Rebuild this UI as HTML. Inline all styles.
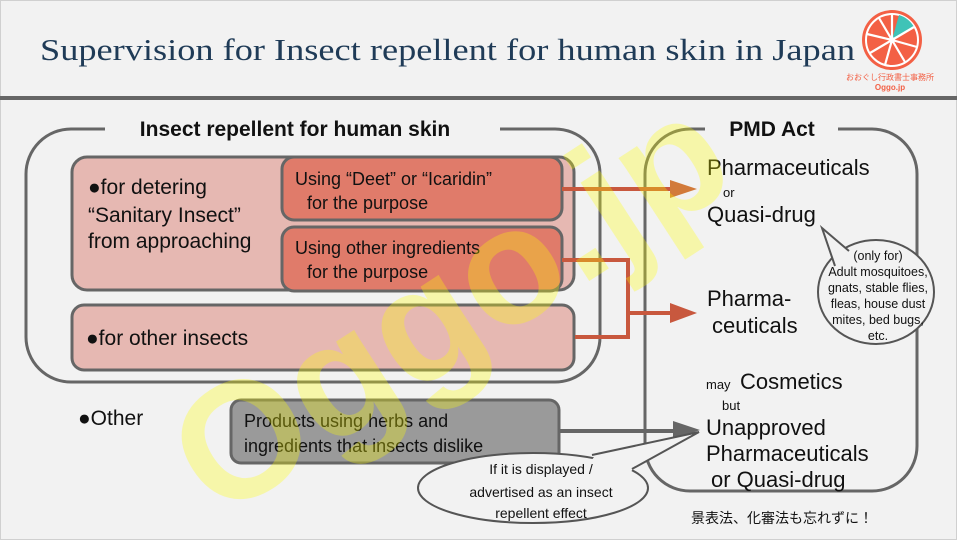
<!DOCTYPE html>
<html><head><meta charset="utf-8"><style>
html,body{margin:0;padding:0;background:#fff}
svg{display:block}
</style></head><body>
<svg width="960" height="543" viewBox="0 0 960 543" xmlns="http://www.w3.org/2000/svg" font-family="'Liberation Sans', sans-serif">
<rect x="0.5" y="0.5" width="956" height="539" fill="#f2f2f2" stroke="#d0d0d0"/>

<text x="40" y="60" font-family="'Liberation Serif', serif" font-size="31" fill="#1f3b57" textLength="815" lengthAdjust="spacingAndGlyphs">Supervision for Insect repellent for human skin in Japan</text>
<!-- logo -->
<g transform="translate(892,40)">
<circle r="30" fill="#f36045"/>
<circle r="26" fill="none" stroke="#fff" stroke-width="2"/>
<path d="M0,0 L7,-25 A26,26 0 0 1 22,-13 Z" fill="#3fc3b7"/>
<g stroke="#fff" stroke-width="2.2">
<line x1="0" y1="0" x2="0" y2="-26"/><line x1="0" y1="0" x2="22" y2="-13"/><line x1="0" y1="0" x2="25" y2="7"/><line x1="0" y1="0" x2="13" y2="22"/><line x1="0" y1="0" x2="-7" y2="25"/><line x1="0" y1="0" x2="-22" y2="13"/><line x1="0" y1="0" x2="-25" y2="-6"/><line x1="0" y1="0" x2="-13" y2="-22"/>
</g>
<circle r="3" fill="#fff"/>
</g>
<text x="890" y="80" text-anchor="middle" font-size="8" fill="#f36045" font-family="'Liberation Sans','Noto Sans CJK JP',sans-serif">おおぐし行政書士事務所</text>
<text x="890" y="90" text-anchor="middle" font-size="8" fill="#f36045" font-weight="bold">Oggo.jp</text>
<rect x="0" y="96" width="957" height="4" fill="#666"/>

<!-- left big box -->
<rect x="26" y="129" width="574" height="253" rx="45" fill="none" stroke="#666" stroke-width="3"/>
<rect x="105" y="118" width="395" height="22" fill="#f2f2f2"/>
<text x="295" y="136" text-anchor="middle" font-size="21" font-weight="bold" fill="#111">Insect repellent for human skin</text>
<rect x="72" y="157" width="502" height="133" rx="15" fill="#e6b8b2" stroke="#666" stroke-width="3"/>
<rect x="282" y="157" width="280" height="63" rx="12" fill="#e07b6a" stroke="#666" stroke-width="3"/>
<rect x="282" y="227" width="280" height="64" rx="12" fill="#e07b6a" stroke="#666" stroke-width="3"/>
<rect x="72" y="305" width="502" height="65" rx="12" fill="#e6b8b2" stroke="#666" stroke-width="3"/>
<g font-size="21" fill="#111">
<text x="88" y="194">●for detering</text>
<text x="88" y="222">“Sanitary Insect”</text>
<text x="88" y="248">from approaching</text>
<text x="86" y="345">●for other insects</text>
<text x="78" y="425">●Other</text>
</g>
<g font-size="18" fill="#111">
<text x="295" y="185">Using “Deet” or “Icaridin”</text>
<text x="307" y="209">for the purpose</text>
<text x="295" y="254">Using other ingredients</text>
<text x="307" y="278">for the purpose</text>
</g>
<!-- grey box -->
<rect x="231" y="400" width="328" height="63" rx="10" fill="#9a9a9a" stroke="#666" stroke-width="3"/>
<text x="244" y="427" font-size="18" fill="#111">Products using herbs and</text>
<text x="244" y="452" font-size="18" fill="#111">ingredients that insects dislike</text>

<!-- PMD box -->
<rect x="645" y="129" width="272" height="362" rx="45" fill="none" stroke="#666" stroke-width="3"/>
<rect x="705" y="118" width="133" height="22" fill="#f2f2f2"/>
<text x="772" y="136" text-anchor="middle" font-size="21" font-weight="bold" fill="#111">PMD Act</text>
<g fill="#111">
<text x="707" y="175" font-size="22">Pharmaceuticals</text>
<text x="723" y="197" font-size="13">or</text>
<text x="707" y="222" font-size="22">Quasi-drug</text>
<text x="707" y="306" font-size="22">Pharma-</text>
<text x="712" y="333" font-size="22">ceuticals</text>
<text x="706" y="389" font-size="13">may</text>
<text x="740" y="389" font-size="22">Cosmetics</text>
<text x="722" y="410" font-size="13">but</text>
<text x="706" y="435" font-size="22">Unapproved</text>
<text x="706" y="461" font-size="22">Pharmaceuticals</text>
<text x="711" y="487" font-size="22">or Quasi-drug</text>
</g>

<!-- arrows -->
<g stroke="#c8583e" stroke-width="4" fill="none">
<line x1="562" y1="189" x2="672" y2="189"/>
<polyline points="562,260 628,260 628,337 575,337"/>
<line x1="628" y1="313" x2="672" y2="313"/>
</g>
<polygon points="670,180 697,189 670,198" fill="#d27a3a"/>
<polygon points="670,303 697,313 670,323" fill="#c8583e"/>
<line x1="559" y1="431" x2="675" y2="431" stroke="#666" stroke-width="4"/>
<polygon points="673,421 700,430 673,440" fill="#666"/>

<!-- watermark on top -->
<text x="480" y="352" text-anchor="middle" font-size="165" font-weight="bold" fill="#ffff00" fill-opacity="0.3" transform="rotate(-33 480 352)">Oggo.jp</text>

<!-- callout 1 -->
<ellipse cx="876" cy="292" rx="58" ry="52" fill="#f2f2f2" stroke="#555" stroke-width="2"/>
<polygon points="849,252 822,228 836,266" fill="#f2f2f2"/>
<polyline points="849,251 822,228 835,266" fill="none" stroke="#555" stroke-width="2"/>
<g font-size="12.5" fill="#111" text-anchor="middle">
<text x="878" y="260">(only for)</text>
<text x="878" y="276">Adult mosquitoes,</text>
<text x="878" y="292">gnats, stable flies,</text>
<text x="878" y="308">fleas, house dust</text>
<text x="878" y="324">mites, bed bugs,</text>
<text x="878" y="340">etc.</text>
</g>
<!-- callout 2 -->
<ellipse cx="533" cy="488" rx="115" ry="35" fill="#f2f2f2" stroke="#555" stroke-width="2"/>
<polygon points="595,456 699,432 632,470 630,475 590,462" fill="#f2f2f2"/>
<polyline points="592,455 699,432 632,469" fill="none" stroke="#555" stroke-width="2"/>
<g font-size="14" fill="#111" text-anchor="middle">
<text x="541" y="474">If it is displayed /</text>
<text x="541" y="497">advertised as an insect</text>
<text x="541" y="518">repellent effect</text>
</g>
<text x="782" y="523" text-anchor="middle" font-size="14" fill="#111" font-family="'Liberation Sans','Noto Sans CJK JP',sans-serif">景表法、化審法も忘れずに！</text>
</svg>
</body></html>
